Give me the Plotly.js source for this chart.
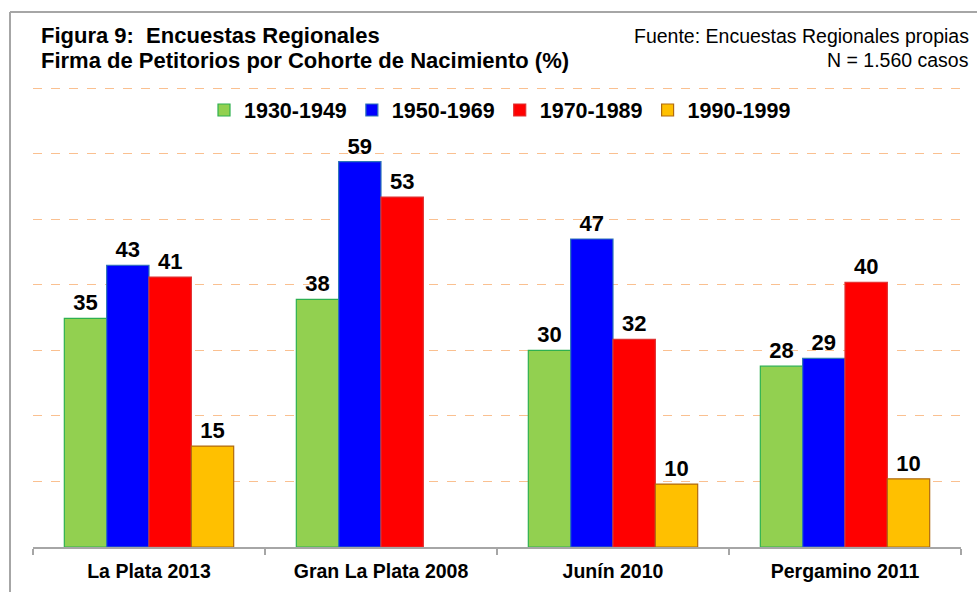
<!DOCTYPE html>
<html>
<head>
<meta charset="utf-8">
<script src="https://cdn.plot.ly/plotly-3.0.1.min.js"></script>
<style>
html,body{margin:0;padding:0;background:#fff;}
#chart{width:977px;height:592px;}
</style>
</head>
<body>
<div id="chart"></div>
<script>
const categories = ["La Plata 2013", "Gran La Plata 2008", "Junín 2010", "Pergamino 2011"];
const seriesNames = ["1930-1949", "1950-1969", "1970-1989", "1990-1999"];
const c1930 = [34.9, 37.8, 30.0, 27.6];
const c1950 = [43.0, 58.8, 47.0, 28.8];
const c1970 = [41.2, 53.4, 31.7, 40.4];
const c1990 = [15.4, null, 9.6, 10.4];
const fillColors = ["#92D050", "#0000FF", "#FF0000", "#FFC000"];
const lineColors = ["#2EB050", "#2E75B6", "#E03030", "#B06A10"];

const FONT = "Liberation Sans, Arial, sans-serif";
const L = 33, R = 961, T = 87, B = 547;
const YMAX = 70.2;
const px = v => (v - L) / (R - L);
const py = v => (B - v) / (B - T);

const allSeries = [c1930, c1950, c1970, c1990];
const traces = allSeries.map((vals, i) => ({
  type: "bar",
  name: seriesNames[i],
  x: categories,
  y: vals,
  marker: {color: fillColors[i], line: {color: lineColors[i], width: 1.2}},
  texttemplate: "%{y:.0f}",
  textposition: "outside",
  cliponaxis: false,
  textfont: {family: FONT, size: 22, color: "#000", weight: "bold"},
  hoverinfo: "skip"
}));

const layout = {
  width: 977, height: 592,
  margin: {l: L, r: 977 - R, t: T, b: 592 - B, pad: 0},
  paper_bgcolor: "#fff", plot_bgcolor: "#fff",
  barmode: "group", bargap: 0.27, bargroupgap: 0,
  font: {family: FONT, color: "#000"},
  showlegend: true,
  legend: {
    orientation: "h", x: px(500), xanchor: "center", y: py(110), yanchor: "middle",
    font: {family: FONT, size: 21.5, color: "#000", weight: "bold"},
    bgcolor: "rgba(0,0,0,0)", traceorder: "normal", itemwidth: 30
  },
  xaxis: {
    type: "category", showline: true, linecolor: "#A6A6A6", linewidth: 1.5,
    ticks: "outside", tickson: "boundaries", ticklen: 6, tickcolor: "#A6A6A6", tickwidth: 1.5,
    ticklabelstandoff: 6,
    showgrid: false, zeroline: false,
    tickfont: {family: FONT, size: 19.5, color: "#000", weight: "bold"}
  },
  yaxis: {
    range: [0, YMAX], dtick: 10, tick0: 0, showticklabels: false, ticks: "",
    showgrid: true, gridcolor: "#FAC090", griddash: "dash", gridwidth: 1,
    zeroline: false, showline: false, fixedrange: true
  },
  shapes: [
    {type: "line", xref: "paper", yref: "paper", x0: px(10), x1: px(977), y0: py(12), y1: py(12),
     line: {color: "#A6A6A6", width: 2}},
    {type: "line", xref: "paper", yref: "paper", x0: px(10), x1: px(10), y0: py(12), y1: py(592),
     line: {color: "#A6A6A6", width: 2}}
  ],
  annotations: [
    {xref: "paper", yref: "paper", x: px(39), y: py(35.5), xanchor: "left", yanchor: "middle",
     text: "Figura 9:  Encuestas Regionales", showarrow: false,
     font: {family: FONT, size: 22, color: "#000", weight: "bold"}},
    {xref: "paper", yref: "paper", x: px(39), y: py(60.5), xanchor: "left", yanchor: "middle",
     text: "Firma de Petitorios por Cohorte de Nacimiento (%)", showarrow: false,
     font: {family: FONT, size: 22, color: "#000", weight: "bold"}},
    {xref: "paper", yref: "paper", x: px(971), y: py(36), xanchor: "right", yanchor: "middle",
     text: "Fuente: Encuestas Regionales propias", showarrow: false,
     font: {family: FONT, size: 19.5, color: "#000"}},
    {xref: "paper", yref: "paper", x: px(971), y: py(59.5), xanchor: "right", yanchor: "middle",
     text: "N = 1.560 casos", showarrow: false,
     font: {family: FONT, size: 19.5, color: "#000"}}
  ]
};

Plotly.newPlot("chart", traces, layout, {displayModeBar: false, staticPlot: true});
</script>
</body>
</html>
